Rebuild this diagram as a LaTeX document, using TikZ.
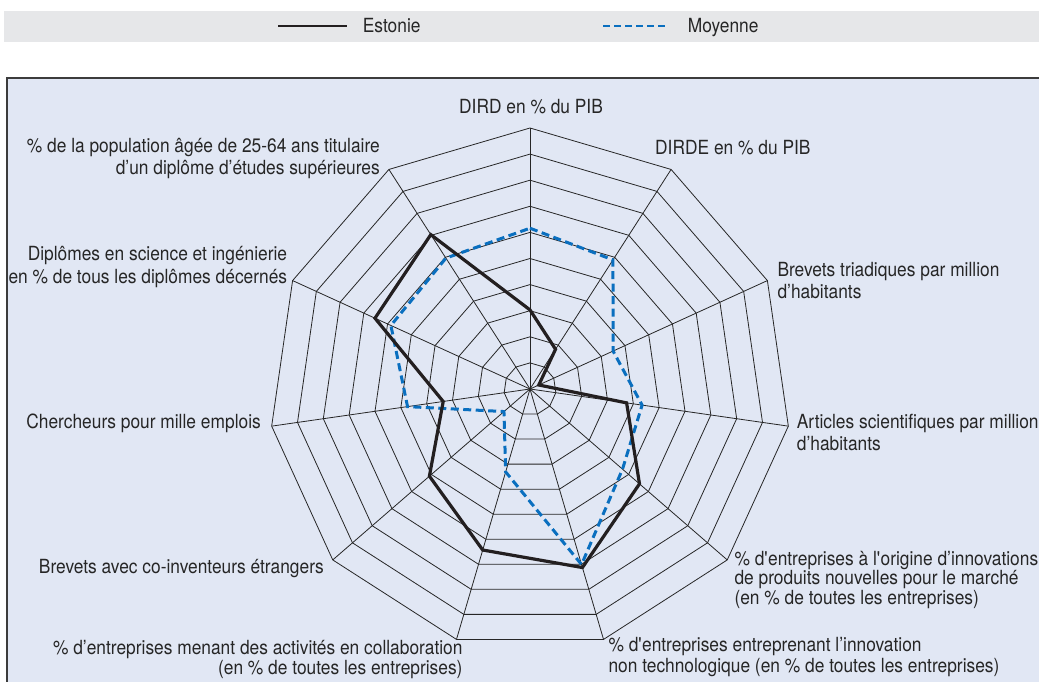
\documentclass[tikz,border=0pt]{standalone}
\usepackage{fontspec}
\setmainfont{TeX Gyre Heros}[FakeStretch=0.89]
\definecolor{panelfill}{HTML}{E1E7F4}
\definecolor{legbar}{HTML}{E6E7E9}
\definecolor{avgblue}{HTML}{0A6FBF}
\definecolor{framecol}{HTML}{3C3C3C}
\definecolor{estcol}{HTML}{231F20}
\definecolor{txtcol}{HTML}{262626}
\begin{document}
\begin{tikzpicture}[x=1pt,y=1pt,
  gridline/.style={line width=0.8pt,black!85},
  estline/.style={line width=3.2pt,estcol,line join=miter},
  avgline/.style={line width=3pt,avgblue,dash pattern=on 8pt off 4.5pt},
  lab/.style={inner sep=0pt,text=txtcol,font=\fontsize{19.5}{22}\selectfont},
  labtight/.style={inner sep=0pt,text=txtcol,font=\fontsize{19.5}{17.6}\selectfont}]
\useasboundingbox (0,0) rectangle (1039,681);
% legend bar
\fill[legbar] (4,639.3) rectangle (1045,670);
\coordinate (le1) at (278.3,655);
\coordinate (le2) at (347.3,655);
\draw[line width=2.6pt,estcol] (le1) -- (le2);
\node[lab,anchor=base west] (lest) at (362.7,648.3) {Estonie};
\coordinate (lm1) at (603.3,655);
\coordinate (lm2) at (666.7,655);
\draw[line width=2.6pt,avgblue,dash pattern=on 7pt off 4pt] (lm1) -- (lm2);
\node[lab,anchor=base west] (lmoy) at (687.7,648.3) {Moyenne};
% panel
\filldraw[fill=panelfill,draw=framecol,line width=2pt] (7,-20) rectangle (1060,603);
\begin{scope}[shift={(530,292)}]
  \coordinate (C) at (0,0);
  % rings
  \foreach \i in {1,...,10} {
    \draw[gridline] (90:{\i*26.1pt})
      \foreach \k in {1,...,10} { -- ({90-\k*360/11}:{\i*26.1pt}) } -- cycle;
  }
  % spokes
  \foreach \k in {0,...,10} {
    \coordinate (ax\k) at ({90-\k*360/11}:261pt);
    \draw[gridline] (C) -- (ax\k);
  }
  % data
  \foreach \v [count=\k from 0] in {3.03,1.81,0.37,3.74,5.55,7.13,6.43,5.10,3.36,6.53,7.03}
    \coordinate (e\k) at ({90-\k*360/11}:{\v*26.1pt});
  \foreach \v [count=\k from 0] in {6.16,5.88,3.50,4.34,4.69,7.01,3.31,1.32,4.74,5.86,5.96}
    \coordinate (m\k) at ({90-\k*360/11}:{\v*26.1pt});
  \draw[avgline] (m0) -- (m1) -- (m2) -- (m3) -- (m4) -- (m5) -- (m6) -- (m7) -- (m8) -- (m9) -- (m10) -- cycle;
  \draw[estline] (e0) -- (e1) -- (e2) -- (e3) -- (e4) -- (e5) -- (e6) -- (e7) -- (e8) -- (e9) -- (e10) -- cycle;
\end{scope}
% axis labels (base anchor = baseline of the last line)
\node[lab,anchor=base] (l0) at (531,567) {DIRD en \% du PIB};
\node[lab,anchor=base west] (l1) at (655,526.7) {DIRDE en \% du PIB};
\node[lab,anchor=base west,align=left] (l2) at (777.3,382) {Brevets triadiques par million\\d’habitants};
\node[lab,anchor=base west,align=left] (l3) at (796.7,231) {Articles scientifiques par million\\d’habitants};
\node[labtight,anchor=base west,align=left] (l4) at (734.3,77) {\% d\textquotesingle entreprises à l\textquotesingle origine d’innovations\\de produits nouvelles pour le marché\\(en \% de toutes les entreprises)};
\node[lab,anchor=base west,align=left,font=\fontsize{19.5}{20.6}\selectfont] (l5) at (608.3,8.7) {\% d\textquotesingle entreprises entreprenant l’innovation\\non technologique (en \% de toutes les entreprises)};
\node[labtight,anchor=base east,align=right] (l6) at (462.7,7) {\% d’entreprises menant des activités en collaboration\\(en \% de toutes les entreprises)};
\node[lab,anchor=base east] (l7) at (324,107.7) {Brevets avec co-inventeurs étrangers};
\node[lab,anchor=base east] (l8) at (261,252.7) {Chercheurs pour mille emplois};
\node[lab,anchor=base east,align=right,font=\fontsize{19.5}{22.6}\selectfont] (l9) at (287.3,397.7) {Diplômes en science et ingénierie\\en \% de tous les diplômes décernés};
\node[lab,anchor=base east,align=right] (l10) at (380,506.7) {\% de la population âgée de 25-64 ans titulaire\\d’un diplôme d’études supérieures};
\end{tikzpicture}
\end{document}
